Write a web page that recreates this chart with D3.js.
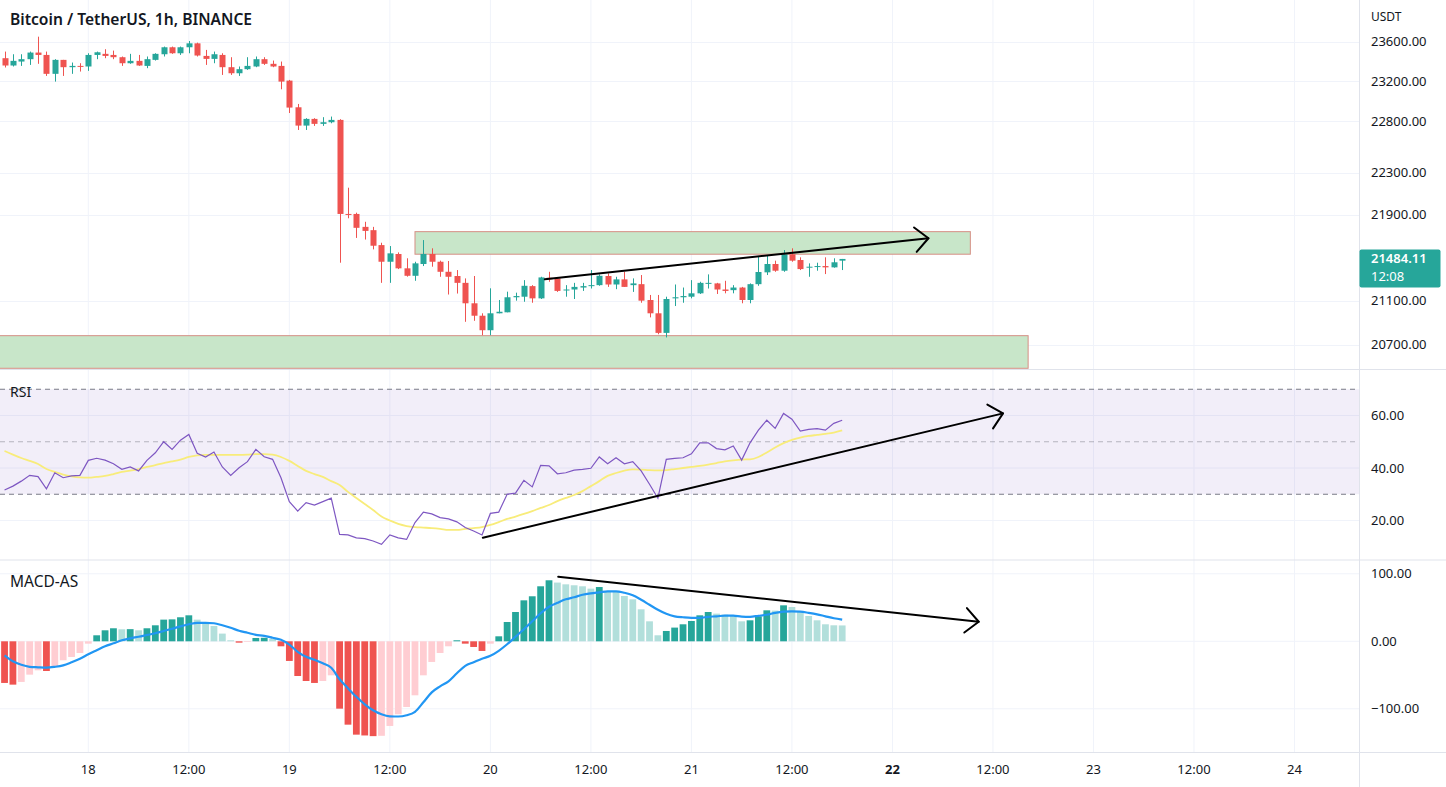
<!DOCTYPE html>
<html><head><meta charset="utf-8">
<script src="https://cdn.jsdelivr.net/npm/d3@7"></script>
<style>
body{margin:0;background:#fff;overflow:hidden;}
svg{display:block;}
text{font-family:"Noto Sans",sans-serif;}
</style>
</head><body>
<svg id="c" width="1446" height="787"></svg>
<script>
// ---------- DATA ----------
// hourly candles, index 0 = 17 Jun 14:00
const open = [23432,23358,23398,23422,23489,23465,23274,23415,23341,23354,
23348,23465,23476,23465,23442,23381,23405,23354,23415,23472,
23543,23482,23543,23583,23455,23425,23465,23341,23280,23321,
23348,23422,23375,23354,23206,22940,22759,22825,22776,22792,
22815,21906,21906,21784,21753,21613,21458,21530,21397,21328,
21437,21530,21458,21365,21326,21263,21076,20963,20832,20985,
20994,21131,21136,21233,21121,21310,21304,21196,21202,21220,
21233,21242,21326,21248,21295,21242,21251,21106,20985,20808,
21121,21131,21136,21167,21258,21258,21202,21196,21220,21106,
21251,21360,21437,21375,21527,21474,21403,21412,21418,21406,21468];
const high = [23499,23472,23472,23499,23651,23499,23422,23415,23388,23381,
23482,23499,23523,23509,23449,23476,23465,23449,23482,23550,
23550,23550,23607,23590,23516,23499,23482,23442,23348,23442,
23449,23442,23408,23398,23213,22973,22832,22832,22842,22848,
22822,22156,21918,21832,21784,21635,21604,21545,21490,21458,
21660,21583,21468,21465,21381,21304,21326,20985,21213,21106,
21182,21173,21288,21242,21319,21365,21310,21242,21263,21263,
21381,21341,21350,21319,21365,21304,21335,21152,21152,21136,
21248,21220,21288,21273,21341,21263,21282,21242,21226,21258,
21505,21511,21468,21567,21583,21499,21443,21449,21499,21490,21484];
const low = [23338,23348,23354,23364,23375,23253,23196,23253,23274,23297,
23304,23422,23432,23422,23354,23375,23354,23331,23408,23449,
23476,23465,23482,23449,23364,23381,23263,23263,23253,23314,
23341,23364,23341,23119,22883,22716,22716,22756,22756,22782,
21449,21865,21680,21665,21573,21263,21263,21390,21320,21282,
21418,21412,21319,21156,21165,20908,20917,20787,20787,20985,
20994,21100,21090,21081,21115,21273,21180,21136,21115,21189,
21211,21236,21226,21205,21226,21180,21081,20948,20796,20767,
21051,21081,21121,21161,21211,21161,21167,21167,21076,21076,
21236,21335,21365,21365,21458,21381,21319,21375,21344,21403,21381];
const close = [23358,23405,23422,23489,23465,23274,23415,23341,23354,23348,
23465,23492,23455,23442,23381,23405,23358,23422,23476,23543,
23482,23543,23583,23459,23425,23472,23341,23280,23321,23354,
23422,23375,23348,23196,22937,22759,22825,22776,22792,22815,
21906,21897,21775,21746,21607,21458,21536,21397,21328,21443,
21530,21458,21365,21319,21263,21076,20963,20832,20985,20999,
21131,21142,21236,21121,21313,21295,21189,21202,21226,21233,
21242,21328,21248,21295,21226,21258,21100,20985,20808,21115,
21131,21142,21167,21263,21263,21202,21189,21220,21106,21251,
21363,21437,21375,21527,21468,21390,21412,21418,21406,21453,21484];

const rsi = [31.6,33.1,35.0,37.2,36.7,32.1,38.2,36.3,37.0,37.2,
42.9,43.7,43.0,41.6,39.5,40.4,38.9,42.9,45.8,50.0,
47.1,50.6,52.8,45.6,44.2,46.1,40.4,37.2,40.1,42.4,
47.1,44.3,43.3,36.3,27.2,23.6,26.8,25.9,27.2,28.5,
14.7,14.5,13.4,13.1,12.2,10.9,14.5,13.4,12.8,19.2,
23.2,22.5,21.1,20.6,19.5,17.3,16.0,14.5,22.7,23.2,
30.0,30.4,35.3,32.8,41.0,40.8,37.8,38.2,39.2,39.5,
39.9,44.2,41.6,43.9,41.6,42.4,38.9,33.8,28.5,43.3,
43.7,43.9,45.4,49.6,49.6,47.4,46.9,48.4,43.0,49.6,
54.4,58.2,55.1,60.8,58.6,54.1,54.7,55.0,54.4,57.0,58.2];
const rsiMA = [46.5,45.1,43.8,42.7,41.5,39.6,38.5,37.5,36.8,36.4,
36.3,36.6,37.0,37.7,38.5,39.0,39.6,40.4,41.1,41.9,
42.5,43.2,44.2,44.8,45.0,45.0,45.0,45.0,45.0,45.1,
45.3,45.3,45.1,44.2,42.7,40.8,38.9,37.7,36.6,35.0,
33.5,30.9,28.6,26.3,24.0,21.5,20.0,18.7,17.9,17.5,
17.3,17.1,16.8,16.4,16.4,16.8,17.1,17.5,18.3,19.4,
20.6,21.5,22.5,23.6,24.8,25.9,27.4,28.6,29.7,31.2,
33.1,35.0,37.0,38.1,39.0,39.5,39.4,39.2,39.1,39.2,
39.6,40.0,40.4,40.8,41.3,41.9,42.5,42.9,43.2,43.3,
44.2,45.9,47.8,49.5,50.7,51.6,52.2,52.6,53.0,53.5,54.3];

const macdHist = [-61.7,-64.2,-60.2,-49.4,-43.0,-44.0,-37.0,-28.1,-23.2,-17.3,
-3.5,8.9,16.3,19.3,17.8,18.0,16.3,19.3,23.7,32.1,
32.5,35.6,38.5,32.1,26.2,22.7,11.4,1.5,-2.0,-1.0,
4.9,5.2,3.5,-7.4,-29.1,-51.4,-58.8,-61.7,-58.8,-50.4,
-99.8,-123.5,-138.3,-139.5,-140.5,-140.0,-125.4,-108.1,-97.3,-80.0,
-50.4,-30.6,-17.3,-7.4,1.5,-3.5,-8.4,-14.3,-3.5,7.4,
28.6,43.4,60.7,66.7,81.5,90.4,87.0,84.4,83.0,81.5,
78.0,80.4,74.5,73.0,67.1,62.2,47.4,29.6,8.9,15.3,
20.3,25.2,30.1,38.5,43.4,41.0,39.5,38.5,29.6,31.1,
37.0,45.9,45.5,53.3,50.8,43.4,37.5,31.1,25.2,23.7,23.5];
const macdLine = [-20.7,-29.6,-34.8,-37.8,-38.5,-39.0,-37.8,-35.6,-31.1,-25.9,
-19.3,-13.3,-7.4,-3.0,1.5,4.4,6.7,9.3,11.9,15.3,
18.5,22.2,25.2,27.4,27.4,26.7,23.7,20.0,15.6,12.6,
9.6,8.1,5.2,2.2,-4.9,-15.6,-23.0,-27.4,-32.6,-39.3,
-56.3,-69.6,-82.2,-93.3,-102.2,-108.1,-111.1,-111.4,-109.6,-104.4,
-90.4,-75.6,-66.7,-59.3,-47.4,-36.3,-31.1,-25.9,-21.5,-14.1,
-4.4,6.7,17.8,29.6,41.5,51.1,57.0,62.2,65.2,68.9,
71.1,72.6,74.1,74.1,71.9,68.1,61.5,54.1,46.7,40.7,
37.0,35.6,34.8,34.8,36.3,37.0,38.1,38.1,36.6,36.3,
37.8,39.3,42.2,44.0,44.4,44.0,42.2,40.0,37.0,34.1,32.1];

const priceTicks = [23600,23200,22800,22300,21900,21100,20700];
const rsiTicks = [60,40,20];
const rsiLevels = [70,50,30];
const macdTicks = [100,0,-100];
const timeTickHours = [10,22,34,46,58,70,82,94,106,118,130,142,154];
const timeTickLabels = ["18","12:00","19","12:00","20","12:00","21","12:00","22","12:00","23","12:00","24"];
const lastPrice = "21484.11";
const countdown = "12:08";

// drawings: [startHour, endHour, topPrice, bottomPrice]
const zones = [[49.0,115.3,21739,21528],[-5,122.2,20783,20492]];
const priceTrend = [[64.5,21296],[110.3,21677]];
const rsiTrend = [[57.1,13.45],[119.2,60.8]];
const macdTrend = [[66.1,95.7],[116.3,29.0]];

// ---------- LAYOUT ----------
const W = 1446, H = 787, plotR = 1359.5;
const pane = {price:[0,369.5], rsi:[369.5,560], macd:[560,752.5]};
const svg = d3.select("#c");
const x = d3.scaleLinear().domain([-0.543,161.7]).range([0,1359]);
const yP = d3.scaleLog().domain([20483,24029]).range([369.3,0]);
const yR = d3.scaleLinear().domain([40,60]).range([468,415.5]);
const yM = d3.scaleLinear().domain([0,100]).range([641.3,573.8]);
const idx = d3.range(open.length);

const defs = svg.append("defs");
Object.entries(pane).forEach(([k,[a,b]])=>{
  defs.append("clipPath").attr("id","clip-"+k).append("rect")
    .attr("x",0).attr("y",a).attr("width",plotR).attr("height",b-a);
});

const grid = "#f0f3fa", sep = "#e0e3eb", txt = "#131722";
const up = "#26a69a", dn = "#ef5350";

// vertical grid
svg.append("g").selectAll("line").data(timeTickHours).join("line")
  .attr("x1",d=>x(d)).attr("x2",d=>x(d)).attr("y1",0).attr("y2",pane.macd[1])
  .attr("stroke",grid).attr("stroke-width",1);

// horizontal grids
const gP = svg.append("g").attr("clip-path","url(#clip-price)");
gP.selectAll("line.g").data(priceTicks).join("line").attr("class","g")
  .attr("x1",0).attr("x2",plotR).attr("y1",d=>Math.round(yP(d))+0.5).attr("y2",d=>Math.round(yP(d))+0.5)
  .attr("stroke",grid);
const gR = svg.append("g").attr("clip-path","url(#clip-rsi)");
const gM = svg.append("g").attr("clip-path","url(#clip-macd)");

// ----- PRICE PANE -----
gP.selectAll("rect.zone").data(zones).join("rect").attr("class","zone")
  .attr("x",d=>x(d[0])).attr("width",d=>x(d[1])-x(d[0]))
  .attr("y",d=>yP(d[2])).attr("height",d=>yP(d[3])-yP(d[2]))
  .attr("fill","#c8e6c9").attr("stroke","#d68f85").attr("stroke-width",1);

const cg = gP.append("g");
cg.selectAll("line.w").data(idx).join("line").attr("class","w")
  .attr("x1",i=>Math.round(x(i))+0.5).attr("x2",i=>Math.round(x(i))+0.5)
  .attr("y1",i=>yP(high[i])).attr("y2",i=>yP(low[i]))
  .attr("stroke",i=>close[i]>=open[i]?up:dn).attr("stroke-width",1);
cg.selectAll("rect.b").data(idx).join("rect").attr("class","b")
  .attr("x",i=>Math.round(x(i))-2.5).attr("width",6)
  .attr("y",i=>yP(Math.max(open[i],close[i])))
  .attr("height",i=>Math.max(1,Math.abs(yP(open[i])-yP(close[i]))))
  .attr("fill",i=>close[i]>=open[i]?up:dn);

function arrowLine(g, pts, xs, ys){
  const x1=xs(pts[0][0]), y1=ys(pts[0][1]), x2=xs(pts[1][0]), y2=ys(pts[1][1]);
  g.append("line").attr("x1",x1).attr("y1",y1).attr("x2",x2).attr("y2",y2)
    .attr("stroke","#000").attr("stroke-width",2).attr("stroke-linecap","round");
  const ang = Math.atan2(y1-y2, x1-x2), L=18, a=43*Math.PI/180;
  const p = [[x2+L*Math.cos(ang+a), y2+L*Math.sin(ang+a)],[x2,y2],[x2+L*Math.cos(ang-a), y2+L*Math.sin(ang-a)]];
  g.append("path").attr("d",d3.line()(p)).attr("fill","none")
    .attr("stroke","#000").attr("stroke-width",2).attr("stroke-linecap","round").attr("stroke-linejoin","round");
}
arrowLine(gP, priceTrend, x, yP);

svg.append("text").attr("x",10).attr("y",25).attr("font-size",15.6).attr("font-weight",600)
  .attr("fill",txt).text("Bitcoin / TetherUS, 1h, BINANCE");

// ----- RSI PANE -----
gR.selectAll("line.g").data(rsiTicks).join("line").attr("class","g")
  .attr("x1",0).attr("x2",plotR).attr("y1",d=>yR(d)).attr("y2",d=>yR(d)).attr("stroke",grid);
gR.append("rect").attr("x",0).attr("width",plotR).attr("y",yR(70)).attr("height",yR(30)-yR(70))
  .attr("fill","rgba(126,87,194,0.1)");
gR.selectAll("line.lv").data(rsiLevels).join("line").attr("class","lv")
  .attr("x1",0).attr("x2",plotR).attr("y1",d=>yR(d)).attr("y2",d=>yR(d))
  .attr("stroke","#787b86").attr("stroke-opacity",d=>d===50?0.5:1)
  .attr("stroke-dasharray","5,4");
gR.append("path").datum(idx).attr("fill","none").attr("stroke","#f8ec7a").attr("stroke-width",1.8)
  .attr("d",d3.line().x(i=>x(i)).y(i=>yR(rsiMA[i])).curve(d3.curveMonotoneX));
gR.append("path").datum(idx).attr("fill","none").attr("stroke","#7e57c2").attr("stroke-width",1.2)
  .attr("d",d3.line().x(i=>x(i)).y(i=>yR(rsi[i])));
arrowLine(gR, rsiTrend, x, yR);
svg.append("text").attr("x",10).attr("y",397).attr("font-size",14).attr("fill",txt).text("RSI");

// ----- MACD PANE -----
gM.selectAll("line.g").data(macdTicks).join("line").attr("class","g")
  .attr("x1",0).attr("x2",plotR).attr("y1",d=>yM(d)).attr("y2",d=>yM(d)).attr("stroke",grid);
function histColor(i){
  const v=macdHist[i], p=i>0?macdHist[i-1]:v;
  if(v>=0) return v>=p?"#26a69a":"#b2dfdb";
  return (i===0||v<p)?"#ef5350":"#ffcdd2";
}
gM.selectAll("rect.h").data(idx).join("rect").attr("class","h")
  .attr("x",i=>x(i)-3.4).attr("width",6.8)
  .attr("y",i=>Math.min(yM(0),yM(macdHist[i])))
  .attr("height",i=>Math.abs(yM(macdHist[i])-yM(0)))
  .attr("fill",histColor);
gM.append("path").datum(idx).attr("fill","none").attr("stroke","#2196f3").attr("stroke-width",2.2)
  .attr("d",d3.line().x(i=>x(i)).y(i=>yM(macdLine[i])).curve(d3.curveMonotoneX));
arrowLine(gM, macdTrend, x, yM);
svg.append("text").attr("x",10).attr("y",587).attr("font-size",15.5).attr("fill",txt).text("MACD-AS");

// ----- SEPARATORS & AXES -----
[pane.price[1],pane.rsi[1],pane.macd[1]].forEach(y=>{
  svg.append("line").attr("x1",0).attr("x2",W).attr("y1",y).attr("y2",y).attr("stroke",sep);
});
svg.append("line").attr("x1",plotR).attr("x2",plotR).attr("y1",0).attr("y2",H).attr("stroke",sep);

const axTxt = svg.append("g").attr("font-size",13).attr("fill",txt);
axTxt.append("text").attr("x",1371).attr("y",21).attr("font-size",12).text("USDT");
axTxt.selectAll("text.p").data(priceTicks).join("text").attr("class","p")
  .attr("x",1371).attr("y",d=>yP(d)+4.5).text(d=>d3.format(".2f")(d));
axTxt.selectAll("text.r").data(rsiTicks).join("text").attr("class","r")
  .attr("x",1371).attr("y",d=>yR(d)+4.5).text(d=>d3.format(".2f")(d));
axTxt.selectAll("text.m").data(macdTicks).join("text").attr("class","m")
  .attr("x",1371).attr("y",d=>yM(d)+4.5).text(d=>d3.format(".2f")(d).replace("-","\u2212"));

// last price label
const lp = yP(close[close.length-1]);
svg.append("rect").attr("x",plotR).attr("y",lp-9.5).attr("width",81).attr("height",38).attr("rx",2).attr("fill",up);
svg.append("text").attr("x",1371).attr("y",lp+4.5).attr("font-size",13).attr("font-weight",600).attr("fill","#fff").text(lastPrice);
svg.append("text").attr("x",1371).attr("y",lp+22).attr("font-size",13).attr("fill","#fff").text(countdown);

// time axis
svg.append("g").selectAll("text").data(timeTickHours).join("text")
  .attr("x",d=>x(d)).attr("y",774).attr("text-anchor","middle").attr("font-size",13)
  .attr("font-weight",(d,i)=>timeTickLabels[i]==="22"?700:400)
  .attr("fill",txt).text((d,i)=>timeTickLabels[i]);
</script>
</body></html>
